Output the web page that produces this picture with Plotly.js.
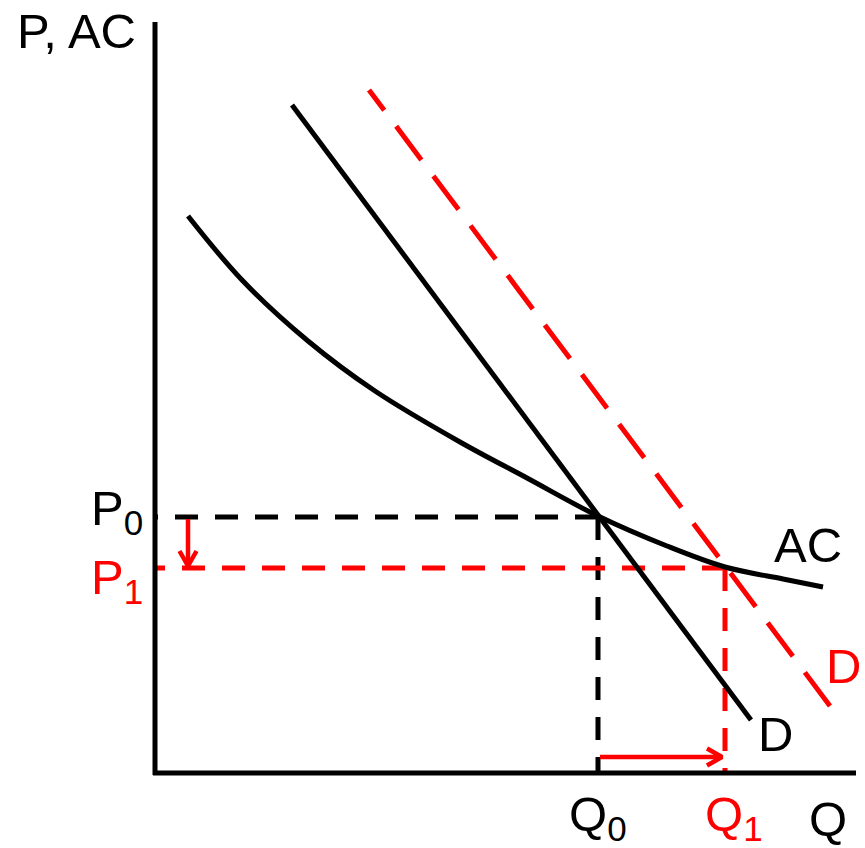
<!DOCTYPE html>
<html>
<head>
<meta charset="utf-8">
<script src="https://cdn.plot.ly/plotly-3.0.1.min.js"></script>
<style>html,body{margin:0;padding:0;background:#fff}#chart{width:865px;height:848px}</style>
</head>
<body>
<div id="chart"></div>
<script>
// Quantity (Q) and price/cost (P) values
const axisQ = [-2, 701];
const axisP = [-2, 751];
const demandQ = [137, 596];
const demandP = [668, 53];
const demandNewQ = [214, 675];
const demandNewP = [683, 67];
const acQ = [33, 87, 153, 220, 305, 372, 443, 512, 570, 628, 668];
const acP = [557, 493, 432, 382, 331, 295, 257, 227, 206, 194, 186];
const Q0 = 443, Q1 = 570;
const P0 = 256, P1 = 205;
const arrowDownQ = 33;   // Q position of the price-drop arrow
const arrowRightP = 16;  // P position of the quantity-rise arrow
const SUB = s => '<sub><span style="font-size:35px">' + s + '</span></sub>';
const labels = [
  {text: 'P, AC', q: -79, p: 742, color: 'black'},
  {text: 'P' + SUB('0'), q: -38, p: 262, color: 'black'},
  {text: 'P' + SUB('1'), q: -38, p: 193, color: 'red'},
  {text: 'Q' + SUB('0'), q: 443, p: -44, color: 'black'},
  {text: 'Q' + SUB('1'), q: 579, p: -44, color: 'red'},
  {text: 'Q', q: 673, p: -46, color: 'black'},
  {text: 'D', q: 620, p: 39, color: 'black'},
  {text: 'D', q: 688, p: 107, color: 'red'},
  {text: 'AC', q: 653, p: 228, color: 'black'}
];

const RED = '#ff0000';
const LW = 5;
const traces = [];
function line(x, y, color, width, dash, shape) {
  traces.push({x: x, y: y, mode: 'lines', hoverinfo: 'skip', showlegend: false,
    line: {color: color, width: width, dash: dash || 'solid', shape: shape || 'linear', smoothing: 1}});
}
// guide lines (dashed), drawn from the curve point toward the axes
line([Q0, 0], [P0, P0], 'black', LW, '23px,17px');
line([Q0, Q0], [P0, 0], 'black', LW, '23px,17px');
line([Q1, 0], [P1, P1], RED, LW, '23px,17px');
line([Q1, Q1], [P1, 0], RED, LW, '23px,17px');
// curves
line(acQ, acP, 'black', LW, 'solid', 'spline');
line(demandQ, demandP, 'black', LW);
line([demandNewQ[1], demandNewQ[0]], [demandNewP[1], demandNewP[0]], RED, LW, '42px,20px');
// axes
line([0, 0], axisP, 'black', LW);
line(axisQ, [0, 0], 'black', LW);
// arrows
const back = 15, side = 8.5, AW = 4.5;
line([arrowDownQ, arrowDownQ], [P0 - 2, P1 + 2], RED, AW);
line([arrowDownQ - side, arrowDownQ, arrowDownQ + side], [P1 + 2 + back, P1 + 2, P1 + 2 + back], RED, AW);
line([Q0 + 2, Q1 - 3], [arrowRightP, arrowRightP], RED, AW);
line([Q1 - 3 - back, Q1 - 3, Q1 - 3 - back], [arrowRightP + side, arrowRightP, arrowRightP - side], RED, AW);

const annotations = labels.map(l => ({
  text: l.text, x: l.q, y: l.p, xref: 'x', yref: 'y', showarrow: false,
  xanchor: 'center', yanchor: 'middle',
  font: {family: 'Liberation Sans, Arial, sans-serif', size: 49, color: l.color}
}));

const layout = {
  width: 865, height: 848,
  margin: {l: 0, r: 0, t: 0, b: 0},
  paper_bgcolor: 'white', plot_bgcolor: 'white',
  xaxis: {range: [-155, 710], visible: false, fixedrange: true},
  yaxis: {range: [-75, 773], visible: false, fixedrange: true},
  annotations: annotations,
  showlegend: false
};
Plotly.newPlot('chart', traces, layout, {displayModeBar: false, staticPlot: true});
</script>
</body>
</html>
